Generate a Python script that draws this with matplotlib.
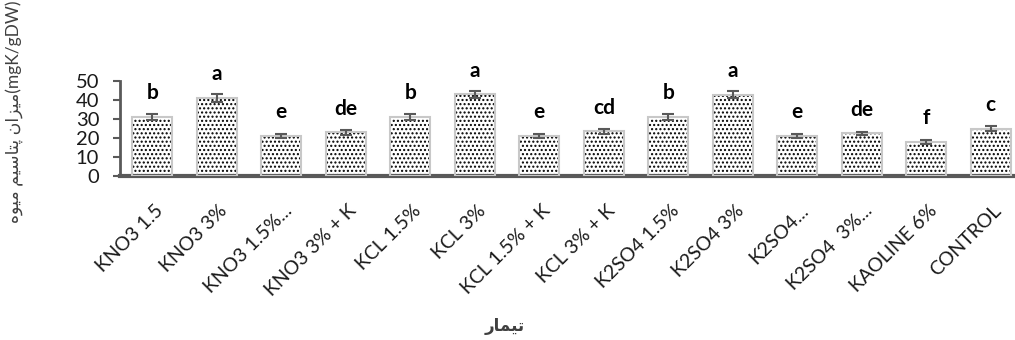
import matplotlib
matplotlib.use("Agg")
import matplotlib.pyplot as plt
from matplotlib.transforms import ScaledTranslation
import numpy as np

categories = ["KNO3 1.5", "KNO3 3%", "KNO3 1.5%...", "KNO3 3% + K", "KCL 1.5%", "KCL 3%",
              "KCL 1.5% + K", "KCL 3% + K", "K2SO4 1.5%", "K2SO4 3%", "K2SO4...",
              "K2SO4  3%...", "KAOLINE 6%", "CONTROL"]
values = [31, 41, 21, 23, 31, 43, 21, 23.5, 31, 42.8, 21, 22.4, 18, 25]
errors = [1.6, 2.0, 1.0, 1.2, 1.6, 2.0, 1.0, 1.2, 1.6, 2.0, 1.0, 1.0, 0.9, 1.2]
letters = ["b", "a", "e", "de", "b", "a", "e", "cd", "b", "a", "e", "de", "f", "c"]
yticks = [0, 10, 20, 30, 40, 50]

# Persian labels written with Arabic presentation forms (visual order)
ylabel_text = "\uFEE9\uFEEE\uFEF4\uFEE3 \uFEE2\uFEF4\uFEB3\uFE8E\uFE98\uFB58 \uFEE5\uFE8D\uFEB0\uFEF4\uFEE3(mgK/gDW)"
xlabel_text = "\uFEAD\uFE8E\uFEE4\uFEF4\uFE97"

plt.rcParams['hatch.linewidth'] = 1.0
fam = ['Lato', 'DejaVu Sans']

fig = plt.figure(figsize=(10.15, 3.4), dpi=100)
ax = fig.add_axes([120/1015, (340-176)/340, (1015-120)/1015, 95/340])

x = np.arange(len(categories))
w = 0.62
ax.bar(x, values, width=w, color='white', edgecolor='black', hatch='....', linewidth=0, zorder=2)
ax.bar(x, values, width=w, fill=False, edgecolor='#c8c8c8', linewidth=1.5, zorder=3)
ax.errorbar(x, values, yerr=errors, fmt='none', ecolor='#595959', elinewidth=1.5,
            capsize=4.5, capthick=1.5, zorder=4)

for xi, v, l in zip(x, values, letters):
    ax.text(xi, v + 12.5, l, ha='center', va='center', fontsize=15, fontweight='bold',
            family=fam, color='black')

ax.set_xlim(-0.5, -0.5 + 895/64.5)
ax.set_ylim(0, 50)
ax.set_yticks(yticks)
ax.set_yticklabels([str(t) for t in yticks], fontsize=14.5, family=fam, color='#1a1a1a')
ax.set_xticks(x)
ax.set_xticklabels(categories, rotation=45, ha='right', va='center', rotation_mode='anchor',
                   fontsize=14, family=fam, color='#1a1a1a')
ax.tick_params(axis='x', length=0, pad=0)
ax.tick_params(axis='y', length=5, width=1.5, color='#595959', pad=10)
off = ScaledTranslation(8/100, -32/100, fig.dpi_scale_trans)
for lab in ax.get_xticklabels():
    lab.set_transform(lab.get_transform() + off)

for s in ['top', 'right']:
    ax.spines[s].set_visible(False)
ax.spines['left'].set_color('#595959')
ax.spines['left'].set_linewidth(2)
ax.spines['bottom'].set_color('#595959')
ax.spines['bottom'].set_linewidth(3)

fig.text(15/1015, 1 - 112/340, ylabel_text, rotation=90, ha='center', va='center',
         fontsize=12.5, family=['Lato', 'DejaVu Sans'], color='#404040')
fig.text(505/1015, 1 - 326/340, xlabel_text, ha='center', va='center',
         fontsize=12, fontweight='bold', family=['DejaVu Sans'], color='#404040')

fig.savefig('out.png', dpi=100)
